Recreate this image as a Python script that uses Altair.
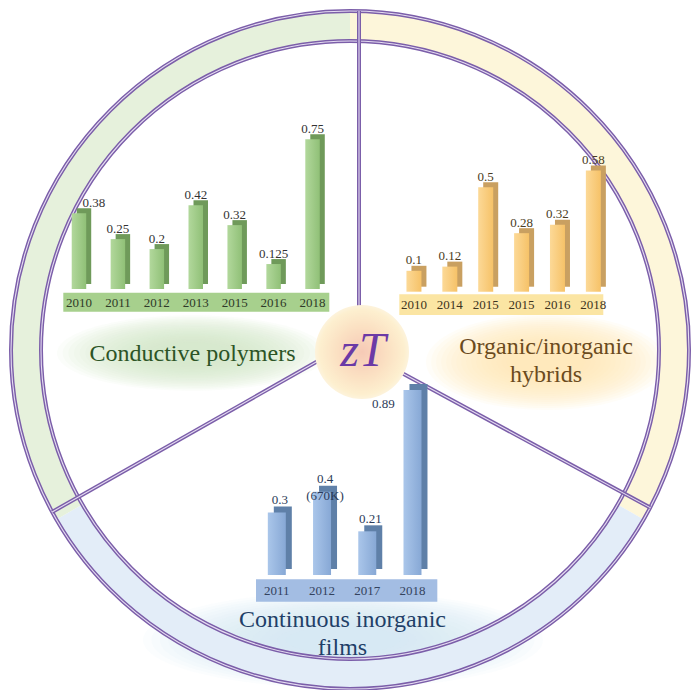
import math
import altair as alt
import pandas as pd

# ---------------- data ----------------
green_years = ["2010", "2011", "2012", "2013", "2015", "2016", "2018"]
green_zt = [0.38, 0.25, 0.2, 0.42, 0.32, 0.125, 0.75]

yellow_years = ["2010", "2014", "2015", "2015", "2016", "2018"]
yellow_zt = [0.1, 0.12, 0.5, 0.28, 0.32, 0.58]

blue_years = ["2011", "2012", "2017", "2018"]
blue_zt = [0.3, 0.4, 0.21, 0.89]
blue_notes = ["", "(670K)", "", ""]

category_names = ["Conductive polymers", "Organic/inorganic\nhybrids", "Continuous inorganic\nfilms"]
center_label = "zT"

# ---------------- layout (page pixels; chart origin is at page 8,8) ----------------
W, H = 684, 682
OFF = 8


def P(v):
    return v - OFF


PURPLE = "#7b5ea9"
PURPLE_LIGHT = "#e6ddf2"
SERIF = "Liberation Serif, Times New Roman, Tinos, serif"

RC = (350, 350)          # ring centre
R_OUT, R_IN = 339, 309   # ring radii


def glow(cx, cy, w, ratio, color, steps=18, alpha=0.09):
    path = f"M -1 0 A 1 {ratio} 0 1 1 1 0 A 1 {ratio} 0 1 1 -1 0 Z"
    sizes = [(w * (1 - 0.042 * k)) ** 2 for k in range(steps)]
    return alt.Chart(pd.DataFrame({"s": sizes})).mark_point(
        shape=path, filled=True, color=color, opacity=alpha, strokeWidth=0
    ).encode(x=alt.value(P(cx)), y=alt.value(P(cy)), size=alt.Size("s:Q", scale=None))


glows = [
    glow(192, 353, 270, 0.28, "#d6eac6"),
    glow(546, 362, 240, 0.4, "#fbe7b3"),
    glow(343, 640, 400, 0.24, "#d6e4f4"),
]

# ring sectors (yellow top-right, blue bottom, green left)
two_pi = 2 * math.pi
ring_df = pd.DataFrame({
    "a0": [0, two_pi / 3, 2 * two_pi / 3],
    "a1": [two_pi / 3, 2 * two_pi / 3, two_pi],
    "c": ["#fdf6da", "#e3edf8", "#e6f1dc"],
})
ring = alt.Chart(ring_df).mark_arc(radius=R_OUT, radius2=R_IN, strokeWidth=0).encode(
    theta=alt.Theta("a0:Q", scale=None), theta2="a1:Q",
    color=alt.Color("c:N", scale=None),
    x=alt.value(P(RC[0])), y=alt.value(P(RC[1])),
)


def circle_outline(r, color, sw):
    return alt.Chart(pd.DataFrame({"k": [0]})).mark_arc(
        radius=r, radius2=0, fill="transparent", stroke=color, strokeWidth=sw
    ).encode(theta=alt.value(0), theta2=alt.value(two_pi),
             x=alt.value(P(RC[0])), y=alt.value(P(RC[1])))


outlines = [
    circle_outline(R_OUT, PURPLE, 4), circle_outline(R_OUT, PURPLE_LIGHT, 1.1),
    circle_outline(R_IN, PURPLE, 4), circle_outline(R_IN, PURPLE_LIGHT, 1.1),
]

# dividing lines: inner point and a direction point, extended to the outer circle
line_defs = [((359, 320), (359, 0)), ((325, 357), (76.7, 498)), ((400, 372), (630, 496.7))]
rows = []
for (x0, y0), (xd, yd) in line_defs:
    dx, dy = xd - x0, yd - y0
    n = math.hypot(dx, dy)
    dx, dy = dx / n, dy / n
    fx, fy = x0 - RC[0], y0 - RC[1]
    b = fx * dx + fy * dy
    c = fx * fx + fy * fy - R_OUT * R_OUT
    t = -b + math.sqrt(b * b - c)
    rows.append({"x1": P(x0), "y1": P(y0), "x2": P(x0 + dx * t), "y2": P(y0 + dy * t)})
lines_df = pd.DataFrame(rows)


def radial_lines(color, sw):
    return alt.Chart(lines_df).mark_rule(color=color, strokeWidth=sw).encode(
        x=alt.X("x1:Q", scale=None), y=alt.Y("y1:Q", scale=None),
        x2="x2:Q", y2="y2:Q")


lines = [radial_lines(PURPLE, 4), radial_lines(PURPLE_LIGHT, 1.1)]

# centre zT disc
HUB = (362, 352)
hub_grad = {
    "gradient": "radial", "x1": 0.5, "y1": 0.5, "r1": 0, "x2": 0.5, "y2": 0.5, "r2": 0.5,
    "stops": [{"offset": 0, "color": "#f6c9b6"}, {"offset": 0.55, "color": "#fbe1c3"},
              {"offset": 0.9, "color": "#fdefcf"}, {"offset": 1, "color": "#fdf3dc"}],
}
hub = alt.Chart(pd.DataFrame({"k": [0]})).mark_arc(radius=47, radius2=0, fill=hub_grad).encode(
    theta=alt.value(0), theta2=alt.value(two_pi), x=alt.value(P(HUB[0])), y=alt.value(P(HUB[1])))
hub_text = alt.Chart(pd.DataFrame({"t": [center_label]})).mark_text(
    font=SERIF, fontStyle="italic", fontSize=48, color="#6b3aa6", baseline="middle", align="center"
).encode(text="t:N", x=alt.value(P(363)), y=alt.value(P(352)))


# ---------------- bar panels ----------------
def panel(years, vals, notes, xr, y0, ppu, width, side_off, grad, side_col, band, band_col,
          year_col, val_col, val_dy, val_dx, special):
    n = len(years)
    labels = []
    for v, note in zip(vals, notes):
        s = f"{v:g}"
        labels.append(s + ("\n" + note if note else ""))
    df = pd.DataFrame({"i": list(range(n)), "year": years, "zt": vals, "lab": labels})
    xs = alt.X("i:O", scale=alt.Scale(range=[P(xr[0]), P(xr[1])], paddingInner=0, paddingOuter=0),
               axis=None)
    ys = alt.Y("zt:Q", scale=alt.Scale(domain=[0, 1], range=[P(y0), P(y0 - ppu)]), axis=None)
    base = alt.Chart(df)
    band_layer = alt.Chart(pd.DataFrame({"k": [0]})).mark_rect(color=band_col).encode(
        x=alt.value(P(band[0])), x2=alt.value(P(band[1])),
        y=alt.value(P(band[2])), y2=alt.value(P(band[3])))
    side = base.mark_bar(size=width, color=side_col, xOffset=side_off, x2Offset=side_off,
                         yOffset=-side_off, y2Offset=-side_off).encode(x=xs, y=ys)
    front = base.mark_bar(size=width, color=grad).encode(x=xs, y=ys)
    yrs = base.mark_text(font=SERIF, fontSize=13, color=year_col, baseline="middle").encode(
        x=xs, y=alt.value(P((band[2] + band[3]) / 2 + 0.5)), text="year:N")
    sp_idx = special[0]
    vals_layer = base.transform_filter(f"datum.i != {sp_idx}").mark_text(
        font=SERIF, fontSize=13, color=val_col, baseline="bottom", lineBreak="\n", lineHeight=17,
        dy=val_dy, dx=val_dx).encode(x=xs, y=ys, text="lab:N")
    sp_layer = base.transform_filter(f"datum.i == {sp_idx}").mark_text(
        font=SERIF, fontSize=13, color=val_col, baseline=special[3], dx=special[1],
        dy=special[2]).encode(x=xs, y=ys, text="lab:N")
    return alt.layer(band_layer, side, front, yrs, vals_layer, sp_layer)


def lin_grad(c1, c2):
    return {"gradient": "linear", "x1": 0, "y1": 0, "x2": 1, "y2": 0,
            "stops": [{"offset": 0, "color": c1}, {"offset": 1, "color": c2}]}


green_panel = panel(green_years, green_zt, [""] * 7, (59.5, 332), 289, 199.6, 14.5, 5,
                    lin_grad("#b2d89c", "#90c077"), "#6f9a5a", (63.3, 329.3, 292.7, 311.7),
                    "#a7d08d", "#2f3a28", "#333333", -3.5, 0, (0, 15, -3.5, "bottom"))
yellow_panel = panel(yellow_years, yellow_zt, [""] * 6, (396, 611.3), 291.7, 209, 15, 5,
                     lin_grad("#fcd997", "#f6c268"), "#c9a061", (399.3, 603.3, 294.3, 315),
                     "#fbe5a3", "#3d3320", "#4a3c22", -3.5, 0, (99, 0, 0, "bottom"))
blue_panel = panel(blue_years, blue_zt, blue_notes, (254.2, 435.1), 575, 208, 18, 6,
                   lin_grad("#aac6ea", "#87a8d5"), "#5f80a8", (256, 437.3, 579.3, 601.7),
                   "#a3bde3", "#34435e", "#2b3b58", -5.5, 3, (3, -29, 14, "middle"))

# ---------------- category labels ----------------
cat_df = pd.DataFrame({
    "name": category_names,
    "x": [P(192.5), P(546), P(342.5)],
    "y": [P(360.5), P(353.5), P(626.5)],
    "c": ["#2c5426", "#6b4b1d", "#1f3f68"],
})
cats = alt.Chart(cat_df).mark_text(font=SERIF, fontSize=24, baseline="alphabetic", align="center",
                                   lineBreak="\n", lineHeight=28.5).encode(
    x=alt.X("x:Q", scale=None), y=alt.Y("y:Q", scale=None),
    text="name:N", color=alt.Color("c:N", scale=None))

chart = alt.layer(
    *glows, ring, *outlines, *lines, hub, hub_text,
    green_panel, yellow_panel, blue_panel, cats,
).resolve_scale(x="independent", y="independent").properties(
    width=W, height=H, padding=0, autosize=alt.AutoSizeParams(type="none"),
    background="white",
).configure_view(stroke=None)

chart.save("out.html", embed_options={"renderer": "svg", "actions": False})
